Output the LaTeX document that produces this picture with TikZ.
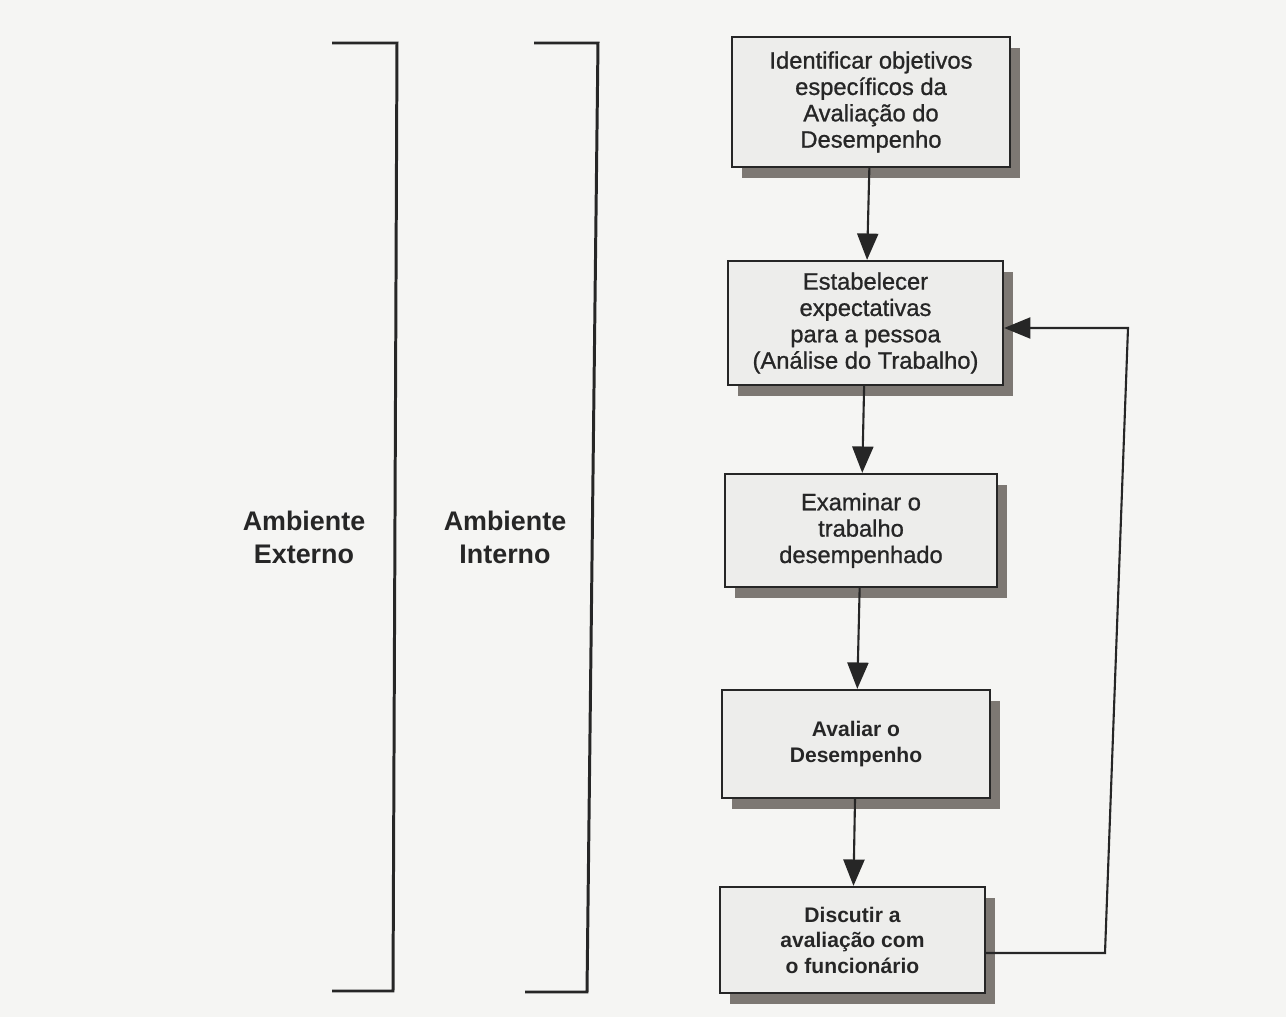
\documentclass[tikz,border=0pt]{standalone}
\usepackage{fontspec}
\setmainfont{Liberation Sans}
\newfontfamily\medfont[FakeBold=0.9]{Liberation Sans}
\usetikzlibrary{arrows.meta,shadows}
\definecolor{bg}{HTML}{F5F5F3}
\definecolor{boxfill}{HTML}{EDEDEB}
\definecolor{shade}{HTML}{7D7873}
\definecolor{ink}{HTML}{262626}
\begin{document}
\begin{tikzpicture}[x=0.02cm,y=-0.02cm,
  stepbox/.style={draw=ink, line width=1.3pt, fill=boxfill, align=center, text=ink, inner sep=0pt,
    font=\medfont\fontsize{13.5}{15}\selectfont,
    drop shadow={shadow xshift=0.2cm, shadow yshift=-0.22cm, fill=shade, opacity=1}},
  boldbox/.style={stepbox, font=\bfseries\fontsize{12}{14.5}\selectfont},
  flow/.style={draw=ink, line width=1.2pt, -{Triangle[length=15pt,width=12pt]}},
  bracket/.style={draw=ink, line width=1.7pt},
  envlabel/.style={align=center, text=ink, font=\bfseries\fontsize{15.3}{18.7}\selectfont}]
\fill[bg] (0,0) rectangle (1286,1017);
\useasboundingbox (0,0) rectangle (1286,1017);

% brackets
\draw[bracket] (332,43) -- (397,43) -- (393,991) -- (332,991);
\draw[bracket] (534,43) -- (598,43) -- (587,992) -- (525,992);

\node[envlabel] (ext) at (304,537) {Ambiente\\Externo};
\node[envlabel] (int) at (505,537) {Ambiente\\Interno};

% boxes
\node[stepbox, minimum width=5.56cm, minimum height=2.6cm] (b1) at (871,102)
  {Identificar objetivos\\específicos da\\Avaliação do\\Desempenho};
\node[stepbox, minimum width=5.5cm, minimum height=2.48cm] (b2) at (865.5,323)
  {Estabelecer\\expectativas\\para a pessoa\\(Análise do Trabalho)};
\node[stepbox, minimum width=5.44cm, minimum height=2.26cm] (b3) at (861,530.5)
  {Examinar o\\trabalho\\desempenhado};
\node[boldbox, minimum width=5.36cm, minimum height=2.16cm] (b4) at (856,744)
  {Avaliar o\\Desempenho};
\node[boldbox, minimum width=5.3cm, minimum height=2.12cm] (b5) at (852.5,940)
  {Discutir a\\avaliação com\\o funcionário};

% flow arrows
\draw[flow] (b1) -- (b2);
\draw[flow] (b2) -- (b3);
\draw[flow] (b3) -- (b4);
\draw[flow] (b4) -- (b5);

% feedback
\coordinate (f1) at (1105,953);
\coordinate (f2) at (1128,328);
\draw[flow] (b5.east |- f1) -- (f1) -- (f2) -- (b2.east |- f2);
\end{tikzpicture}
\end{document}
